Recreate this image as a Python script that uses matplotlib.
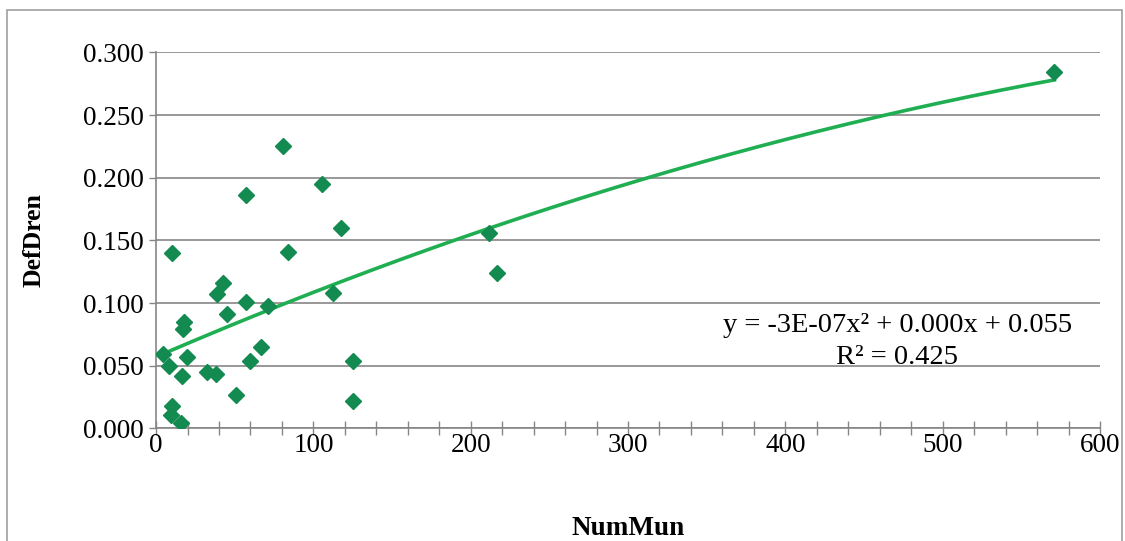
import matplotlib

matplotlib.use("Agg")
import matplotlib.pyplot as plt
import numpy as np
from matplotlib.patches import Rectangle
from matplotlib.ticker import MultipleLocator, FormatStrFormatter

plt.rcParams.update({"font.family": ["Liberation Serif", "DejaVu Serif"]})

# data
num_mun = [80.4, 105.4, 57.0, 117.5, 10.4, 84.0, 42.8, 38.6, 57.0, 112.2,
           71.4, 45.4, 17.8, 17.4, 4.5, 8.3, 19.9, 66.6, 59.8, 16.3,
           32.6, 38.0, 124.9, 50.7, 124.9, 10.4, 9.3, 15.7, 211.8, 216.7,
           571.0]
def_dren = [0.225, 0.195, 0.186, 0.160, 0.140, 0.141, 0.116, 0.107, 0.101, 0.108,
            0.098, 0.091, 0.085, 0.079, 0.059, 0.050, 0.057, 0.065, 0.054, 0.042,
            0.045, 0.0435, 0.0535, 0.027, 0.0217, 0.018, 0.011, 0.004, 0.156, 0.124,
            0.284]
eq_text = "y = -3E-07x\u00b2 + 0.000x + 0.055"
r2_text = "R\u00b2 = 0.425"

GRAY = "#868686"
MARKER = "#138a4f"
LINE = "#1fae52"

fig = plt.figure(figsize=(11.25, 5.41), dpi=100)
ax = fig.add_axes([0.1387, 0.2080, 0.9778 - 0.1387, 0.9033 - 0.2080])

# chart-area border
fig.patches.append(Rectangle((7 / 1125, -0.01), 1115 / 1125, 1 - 10 / 541 + 0.01,
                             transform=fig.transFigure, fill=False,
                             edgecolor="#a0a0a0", linewidth=1.2))

x = np.array(num_mun)
y = np.array(def_dren)
coef = np.polyfit(x, y, 2)
xs = np.linspace(x.min(), x.max(), 300)
ax.plot(xs, np.polyval(coef, xs), color=LINE, linewidth=2.6, zorder=3)
ax.plot(x, y, linestyle="none", marker="D", markersize=8.2, color=MARKER,
        markeredgecolor=MARKER, zorder=4)

ax.set_xlim(0, 600)
ax.set_ylim(0, 0.3)
ax.xaxis.set_major_locator(MultipleLocator(100))
ax.xaxis.set_minor_locator(MultipleLocator(20))
ax.yaxis.set_major_locator(MultipleLocator(0.05))
ax.yaxis.set_major_formatter(FormatStrFormatter("%.3f"))
ax.yaxis.grid(True, color=GRAY, linewidth=1.2)
ax.set_axisbelow(True)

for s in ["top", "right"]:
    ax.spines[s].set_visible(False)
for s in ["left", "bottom"]:
    ax.spines[s].set_color(GRAY)
    ax.spines[s].set_linewidth(1.2)

ax.tick_params(axis="x", which="both", direction="inout", length=10, width=1,
               color=GRAY, labelsize=19.5, pad=-2)
ax.tick_params(axis="y", which="both", direction="out", length=5, width=1,
               color=GRAY, labelsize=19.5, pad=4)

ax.set_ylabel("DefDren", fontsize=18.5, fontweight="bold", labelpad=27)
ax.set_xlabel("NumMun", fontsize=19.5, fontweight="bold", labelpad=42)

ax.text(0.785, 0.273, eq_text, transform=ax.transAxes,
        ha="center", va="center", fontsize=20.5)
ax.text(0.785, 0.190, r2_text, transform=ax.transAxes,
        ha="center", va="center", fontsize=20.5)

fig.savefig("out.png", dpi=100, facecolor="white")
